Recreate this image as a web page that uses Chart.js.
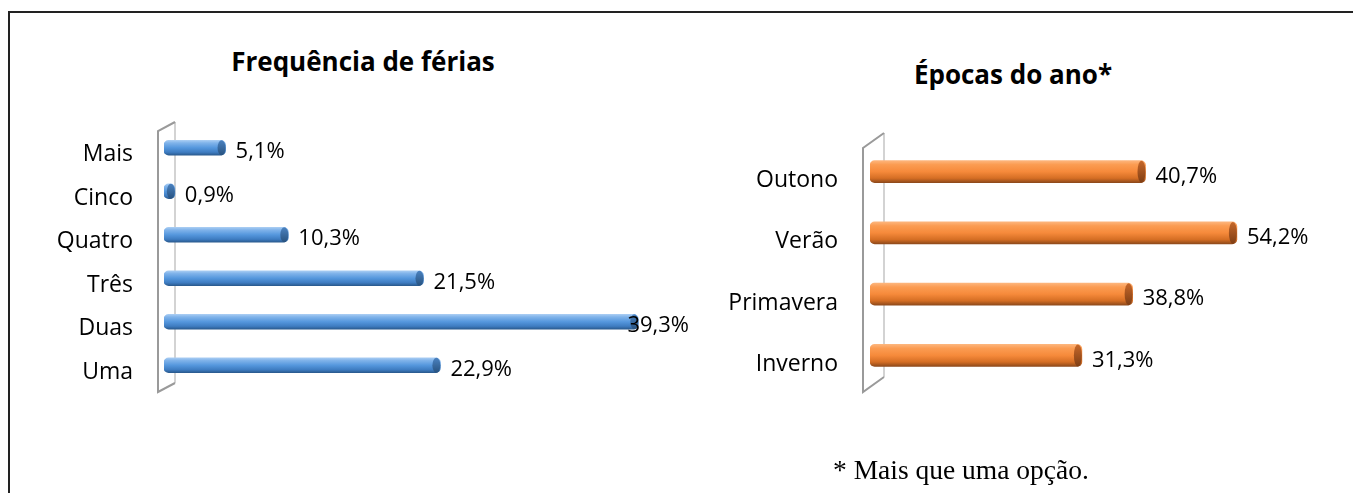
<!DOCTYPE html>
<html>
<head>
<meta charset="utf-8">
<script src="https://cdn.jsdelivr.net/npm/chart.js@4.4.0/dist/chart.umd.min.js"></script>
<style>
  body { margin: 0; background: #fff; width: 1353px; height: 493px; overflow: hidden; position: relative; font-family: "Open Sans", sans-serif; }
  .frame { position: absolute; left: 8px; top: 11px; right: 0; bottom: 0; border-top: 2px solid #222; border-left: 2px solid #222; }
  .title { position: absolute; font-weight: bold; font-size: 26px; color: #000; white-space: nowrap; transform: translateX(-50%); }
  .note { position: absolute; left: 833px; top: 454px; font-family: "Liberation Serif", serif; font-size: 27.5px; color: #000; white-space: nowrap; }
  canvas { position: absolute; top: 0; }
</style>
</head>
<body>
<div class="frame"></div>
<div class="title" style="left:363px; top:43px;">Frequência de férias</div>
<div class="title" style="left:1013px; top:56px;">Épocas do ano*</div>
<canvas id="freqChart" style="left:0px;" width="700" height="493"></canvas>
<canvas id="epocaChart" style="left:700px;" width="653" height="493"></canvas>
<div class="note">* Mais que uma opção.</div>

<script>
// data
const freqLabels = ['Mais', 'Cinco', 'Quatro', 'Três', 'Duas', 'Uma'];
const freqValues = [5.1, 0.9, 10.3, 21.5, 39.3, 22.9];

const epocaLabels = ['Outono', 'Verão', 'Primavera', 'Inverno'];
const epocaValues = [40.7, 54.2, 38.8, 31.3];

const blueStops = [[0, '#a9cdf3'], [0.18, '#80b3ea'], [0.5, '#5597dd'], [0.8, '#3e7cc1'], [1, '#2a5a8e']];
const orangeStops = [[0, '#fdb57c'], [0.18, '#fb9c52'], [0.5, '#f68a3b'], [0.8, '#d56e24'], [1, '#8f4a1b']];

function barGradient(stops, thickness) {
    return function(c) {
        const chart = c.chart;
        const ys = chart.scales.y;
        if (!ys || !chart.chartArea) return stops[2][1];
        const y = ys.getPixelForValue(c.dataIndex);
        const g = chart.ctx.createLinearGradient(0, y - thickness / 2, 0, y + thickness / 2);
        stops.forEach(s => g.addColorStop(s[0], s[1]));
        return g;
    };
}

// 3D-ish wall behind the bars
const wallPlugin = {
    id: 'wall',
    beforeDatasetsDraw(chart, args, opts) {
        const ctx = chart.ctx;
        const area = chart.chartArea;
        const x0 = chart.scales.x.getPixelForValue(0);
        const outX = x0 - opts.out, inX = outX + opts.dx;
        const inTop = area.top - opts.top, outTop = inTop + opts.dy;
        const outBot = area.bottom + opts.bottom, inBot = outBot - opts.dy;
        ctx.save();
        ctx.lineWidth = 1.5;
        ctx.strokeStyle = '#c4c4c4';
        ctx.beginPath();
        ctx.moveTo(inX, inTop); ctx.lineTo(inX, inBot);
        ctx.stroke();
        ctx.lineWidth = 2;
        ctx.strokeStyle = '#9a9a9a';
        ctx.beginPath();
        ctx.moveTo(inX, inTop); ctx.lineTo(outX, outTop); ctx.lineTo(outX, outBot); ctx.lineTo(inX, inBot);
        ctx.stroke();
        ctx.restore();
    }
};

// end caps and value labels
const capLabelPlugin = {
    id: 'capLabel',
    afterDatasetsDraw(chart, args, opts) {
        const ctx = chart.ctx;
        const area = chart.chartArea;
        const meta = chart.getDatasetMeta(0);
        const data = chart.data.datasets[0].data;
        ctx.save();
        meta.data.forEach((bar, i) => {
            const h = bar.height;
            const rx = Math.min(4, (bar.x - bar.base) / 2);
            const g = ctx.createLinearGradient(0, bar.y - h / 2, 0, bar.y + h / 2);
            g.addColorStop(0, opts.capLight);
            g.addColorStop(1, opts.capDark);
            ctx.fillStyle = g;
            ctx.beginPath();
            ctx.ellipse(bar.x - rx, bar.y, rx, h / 2, 0, 0, Math.PI * 2);
            ctx.fill();

            const txt = data[i].toFixed(1).replace('.', ',') + '%';
            ctx.font = '22px "Open Sans", sans-serif';
            ctx.fillStyle = '#000';
            ctx.textBaseline = 'middle';
            const w = ctx.measureText(txt).width;
            let x = bar.x + 10;
            if (x + w > area.right) x = area.right - w;
            ctx.fillText(txt, x, bar.y + opts.dy);
        });
        ctx.restore();
    }
};

function makeChart(id, labels, values, cfg) {
    return new Chart(document.getElementById(id), {
        type: 'bar',
        data: {
            labels: labels,
            datasets: [{
                data: values,
                backgroundColor: barGradient(cfg.stops, cfg.thickness),
                barThickness: cfg.thickness,
                borderRadius: 5,
                borderSkipped: false
            }]
        },
        options: {
            indexAxis: 'y',
            responsive: false,
            animation: false,
            layout: { padding: { top: cfg.top, bottom: cfg.bottom, left: 0, right: cfg.right } },
            plugins: {
                legend: { display: false },
                tooltip: { enabled: false },
                wall: cfg.wall,
                capLabel: { capLight: cfg.capLight, capDark: cfg.capDark, dy: cfg.valueDy }
            },
            scales: {
                x: { display: false, min: 0, max: cfg.xMax },
                y: {
                    grid: { display: false },
                    border: { display: false },
                    ticks: {
                        color: '#000', padding: cfg.tickPad, labelOffset: cfg.labelDy,
                        font: { family: '"Open Sans", sans-serif', size: 23 }
                    },
                    afterFit: (scale) => { scale.width = cfg.axisWidth; }
                }
            }
        },
        plugins: [wallPlugin, capLabelPlugin]
    });
}

makeChart('freqChart', freqLabels, freqValues, {
    stops: blueStops, thickness: 15, xMax: 43.5,
    top: 126, bottom: 106, right: 11, axisWidth: 164, tickPad: 23,
    labelDy: 7, valueDy: 4,
    wall: { out: 6, dx: 17, dy: 9, top: 4, bottom: 5 },
    capLight: '#4b82c0', capDark: '#27527f'
});

makeChart('epocaChart', epocaLabels, epocaValues, {
    stops: orangeStops, thickness: 22, xMax: 65,
    top: 141, bottom: 107, right: 43, axisWidth: 170, tickPad: 24,
    labelDy: 9, valueDy: 5,
    wall: { out: 7, dx: 21, dy: 15, top: 8, bottom: 6 },
    capLight: '#c7682a', capDark: '#7f3e14'
});
</script>
</body>
</html>
